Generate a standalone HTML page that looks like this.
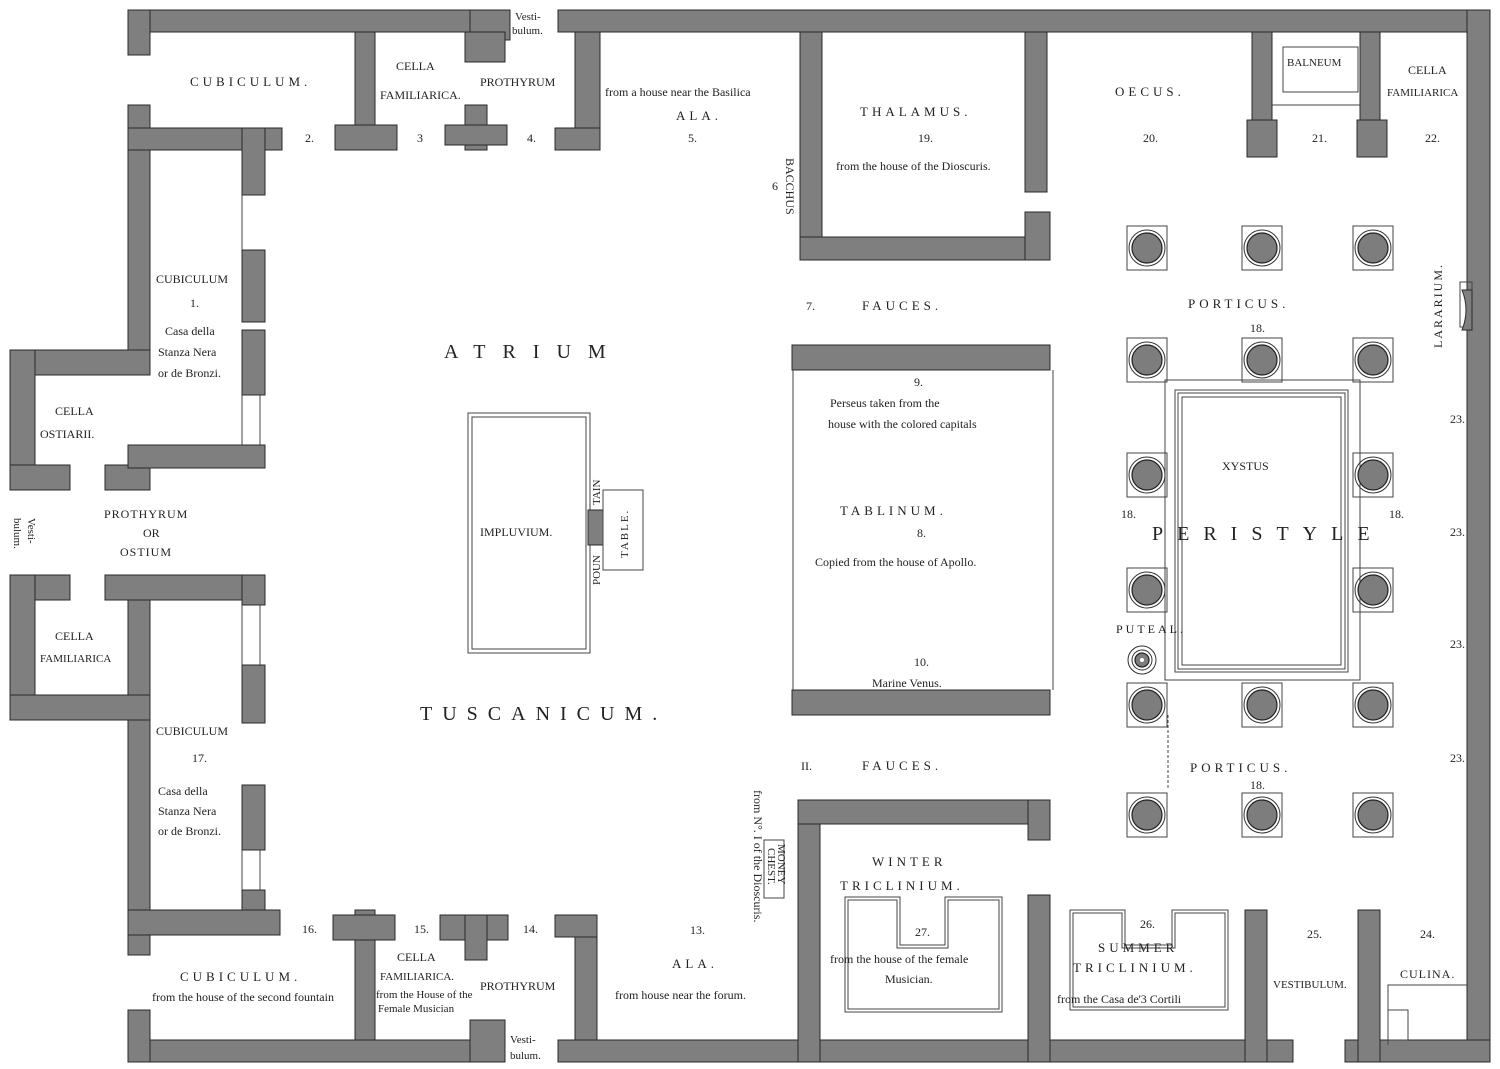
<!DOCTYPE html>
<html><head><meta charset="utf-8"><style>
html,body{margin:0;padding:0;background:#fff;}
svg{display:block;}
text{font-family:"Liberation Serif",serif;fill:#222;}
.w{fill:#7f7f7f;stroke:#2a2a2a;stroke-width:1;}
.t{fill:none;stroke:#444;stroke-width:1;}
.c{fill:#7d7d7d;stroke:#222;stroke-width:1.2;}
.cap{font-size:13px;letter-spacing:4px;}
.sm{font-size:11px;}
.nm{font-size:12px;}
.big{font-size:20px;letter-spacing:10px;}
</style></head><body>
<svg width="1500" height="1069" viewBox="0 0 1500 1069" xmlns="http://www.w3.org/2000/svg">
<defs>
<g id="col"><rect x="-20" y="-22" width="40" height="44" class="t"/><circle r="18" fill="none" stroke="#333"/><circle r="15" class="c"/></g>
</defs>
<rect class="w" x="128" y="10" width="375" height="22"/>
<rect class="w" x="470" y="10" width="40" height="30"/>
<rect class="w" x="558" y="10" width="932" height="22"/>
<rect class="w" x="128" y="10" width="22" height="45"/>
<rect class="w" x="128" y="105" width="22" height="250"/>
<rect class="w" x="1467" y="10" width="23" height="1052"/>
<rect class="w" x="128" y="1040" width="375" height="22"/>
<rect class="w" x="470" y="1020" width="35" height="42"/>
<rect class="w" x="558" y="1040" width="735" height="22"/>
<rect class="w" x="1345" y="1040" width="145" height="22"/>
<rect class="w" x="128" y="575" width="22" height="380"/>
<rect class="w" x="128" y="1010" width="22" height="52"/>
<rect class="w" x="10" y="350" width="140" height="25"/>
<rect class="w" x="10" y="350" width="25" height="140"/>
<rect class="w" x="10" y="465" width="60" height="25"/>
<rect class="w" x="105" y="465" width="45" height="25"/>
<rect class="w" x="10" y="575" width="60" height="25"/>
<rect class="w" x="105" y="575" width="160" height="25"/>
<rect class="w" x="10" y="575" width="25" height="145"/>
<rect class="w" x="10" y="695" width="140" height="25"/>
<rect class="w" x="128" y="128" width="154" height="22"/>
<rect class="w" x="242" y="128" width="23" height="67"/>
<rect class="w" x="242" y="250" width="23" height="72"/>
<rect class="w" x="242" y="330" width="23" height="65"/>
<rect class="w" x="242" y="445" width="23" height="23"/>
<rect class="w" x="128" y="445" width="137" height="23"/>
<line class="t" x1="242" y1="195" x2="242" y2="250"/><line class="t" x1="242" y1="395" x2="242" y2="445"/><line class="t" x1="260" y1="395" x2="260" y2="445"/>
<rect class="w" x="242" y="575" width="23" height="30"/>
<rect class="w" x="242" y="665" width="23" height="58"/>
<rect class="w" x="242" y="785" width="23" height="65"/>
<rect class="w" x="242" y="890" width="23" height="25"/>
<rect class="w" x="128" y="910" width="152" height="25"/>
<line class="t" x1="242" y1="605" x2="242" y2="665"/><line class="t" x1="260" y1="605" x2="260" y2="665"/>
<line class="t" x1="242" y1="850" x2="242" y2="890"/><line class="t" x1="260" y1="850" x2="260" y2="890"/>
<rect class="w" x="355" y="32" width="20" height="95"/>
<rect class="w" x="335" y="125" width="62" height="25"/>
<rect class="w" x="465" y="105" width="22" height="45"/>
<rect class="w" x="445" y="125" width="62" height="20"/>
<rect class="w" x="465" y="32" width="40" height="30"/>
<rect class="w" x="575" y="32" width="25" height="118"/>
<rect class="w" x="555" y="128" width="45" height="22"/>
<rect class="w" x="355" y="910" width="20" height="130"/>
<rect class="w" x="333" y="915" width="62" height="25"/>
<rect class="w" x="440" y="915" width="68" height="25"/>
<rect class="w" x="465" y="915" width="22" height="45"/>
<rect class="w" x="575" y="915" width="22" height="125"/>
<rect class="w" x="555" y="915" width="42" height="22"/>
<rect class="w" x="800" y="32" width="22" height="228"/>
<rect class="w" x="800" y="237" width="250" height="23"/>
<rect class="w" x="1025" y="32" width="22" height="160"/>
<rect class="w" x="1025" y="212" width="25" height="48"/>
<rect class="w" x="1252" y="32" width="20" height="125"/>
<rect class="w" x="1247" y="120" width="30" height="37"/>
<rect class="w" x="1360" y="32" width="20" height="125"/>
<rect class="w" x="1357" y="120" width="30" height="37"/>
<rect class="t" x="1283" y="47" width="75" height="45"/>
<line class="t" x1="1272" y1="105" x2="1360" y2="105"/>
<rect class="w" x="792" y="345" width="258" height="25"/>
<rect class="w" x="792" y="690" width="258" height="25"/>
<line class="t" x1="793" y1="370" x2="793" y2="690"/><line class="t" x1="1053" y1="370" x2="1053" y2="690"/>
<rect class="w" x="798" y="800" width="22" height="262"/>
<rect class="w" x="798" y="800" width="252" height="24"/>
<rect class="w" x="1028" y="800" width="22" height="40"/>
<rect class="w" x="1028" y="895" width="22" height="167"/>
<path class="t" d="M845 897 H900 V945 H945 V897 H1002 V1012 H845 Z"/>
<path class="t" d="M848 900 H897 V948 H948 V900 H999 V1009 H848 Z"/>
<path class="t" d="M1070 910 H1125 V945 H1172 V910 H1228 V1010 H1070 Z"/>
<path class="t" d="M1073 913 H1122 V948 H1175 V913 H1225 V1007 H1073 Z"/>
<rect class="w" x="1245" y="910" width="22" height="152"/>
<rect class="w" x="1358" y="910" width="22" height="152"/>
<path class="t" d="M1388 1045 V985 H1467"/><rect class="t" x="1388" y="1010" width="20" height="30"/>
<rect class="t" x="1460" y="282" width="12" height="45"/>
<path class="w" d="M1462 290 H1472 V330 H1462 Q1470 310 1462 290Z"/>
<rect class="t" x="468" y="413" width="122" height="240"/>
<rect class="t" x="472" y="417" width="114" height="232"/>
<rect class="w" x="588" y="510" width="15" height="35"/>
<rect class="t" x="603" y="490" width="40" height="80"/>
<rect class="t" x="1165" y="380" width="195" height="300"/>
<rect class="t" x="1175" y="390" width="173" height="282"/>
<rect class="t" x="1178" y="393" width="167" height="276"/>
<rect class="t" x="1182" y="397" width="159" height="268"/>
<line class="t" x1="1168" y1="715" x2="1168" y2="790" stroke-dasharray="3,2"/>
<use href="#col" x="1147" y="248"/><use href="#col" x="1262" y="248"/><use href="#col" x="1373" y="248"/>
<use href="#col" x="1147" y="360"/><use href="#col" x="1262" y="360"/><use href="#col" x="1373" y="360"/>
<use href="#col" x="1147" y="475"/><use href="#col" x="1373" y="475"/>
<use href="#col" x="1147" y="590"/><use href="#col" x="1373" y="590"/>
<use href="#col" x="1147" y="705"/><use href="#col" x="1262" y="705"/><use href="#col" x="1373" y="705"/>
<use href="#col" x="1147" y="815"/><use href="#col" x="1262" y="815"/><use href="#col" x="1373" y="815"/>
<circle cx="1142" cy="660" r="14" fill="none" stroke="#333"/><circle cx="1142" cy="660" r="10" fill="none" stroke="#333"/><circle cx="1142" cy="660" r="7" class="c"/><circle cx="1142" cy="660" r="2" fill="#fff"/>
<rect class="t" x="764" y="840" width="20" height="58"/>

<text class="cap" x="190" y="86">CUBICULUM.</text>
<text class="nm" x="396" y="70">CELLA</text>
<text class="nm" x="380" y="99">FAMILIARICA.</text>
<text class="nm" x="480" y="86">PROTHYRUM</text>
<text class="sm" x="515" y="20">Vesti-</text><text class="sm" x="512" y="34">bulum.</text>
<text class="nm" x="605" y="96">from a house near the Basilica</text>
<text class="cap" x="676" y="120">ALA.</text>
<text class="nm" x="688" y="142">5.</text>
<text class="nm" x="305" y="142">2.</text><text class="nm" x="417" y="142">3</text><text class="nm" x="527" y="142">4.</text>
<text class="cap" x="860" y="116">THALAMUS.</text>
<text class="nm" x="918" y="142">19.</text>
<text class="nm" x="836" y="170">from the house of the Dioscuris.</text>
<text class="nm" x="786" y="158" transform="rotate(90 786 158)">BACCHUS</text>
<text class="nm" x="772" y="190">6</text>
<text class="cap" x="1115" y="96">OECUS.</text>
<text class="nm" x="1143" y="142">20.</text><text class="nm" x="1312" y="142">21.</text><text class="nm" x="1425" y="142">22.</text>
<text class="sm" x="1287" y="66">BALNEUM</text>
<text class="nm" x="1408" y="74">CELLA</text><text class="sm" x="1387" y="96">FAMILIARICA</text>
<text class="nm" x="1442" y="348" transform="rotate(-90 1442 348)" letter-spacing="2">LARARIUM.</text>
<text class="nm" x="806" y="310">7.</text>
<text class="cap" x="862" y="310">FAUCES.</text>
<text class="cap" x="1188" y="308">PORTICUS.</text>
<text class="nm" x="1250" y="332">18.</text>
<text class="nm" x="914" y="386">9.</text>
<text class="nm" x="830" y="407" font-size="13">Perseus taken from the</text>
<text class="nm" x="828" y="428" font-size="13">house with the colored capitals</text>
<text class="cap" x="840" y="515">TABLINUM.</text>
<text class="nm" x="917" y="537">8.</text>
<text class="nm" x="815" y="566" font-size="13">Copied from the house of Apollo.</text>
<text class="nm" x="914" y="666">10.</text>
<text class="nm" x="872" y="687" font-size="13">Marine Venus.</text>
<text class="nm" x="1222" y="470">XYSTUS</text>
<text class="big" x="1152" y="540" style="letter-spacing:14px">PERISTYLE</text>
<text class="nm" x="1121" y="518">18.</text><text class="nm" x="1389" y="518">18.</text>
<text class="nm" x="1116" y="633" letter-spacing="3">PUTEAL.</text>
<text class="nm" x="1450" y="423">23.</text><text class="nm" x="1450" y="536">23.</text><text class="nm" x="1450" y="648">23.</text><text class="nm" x="1450" y="762">23.</text>
<text class="nm" x="801" y="770">II.</text>
<text class="cap" x="862" y="770">FAUCES.</text>
<text class="cap" x="1190" y="772" font-size="15">PORTICUS.</text>
<text class="nm" x="1250" y="789">18.</text>
<text class="big" x="444" y="358" style="letter-spacing:17px">ATRIUM</text>
<text class="big" x="420" y="720" font-size="19" letter-spacing="7">TUSCANICUM.</text>
<text class="nm" x="480" y="536">IMPLUVIUM.</text>
<text class="sm" x="600" y="505" transform="rotate(-90 600 505)">TAIN</text>
<text class="sm" x="600" y="585" transform="rotate(-90 600 585)">POUN</text>
<text class="sm" x="628" y="558" transform="rotate(-90 628 558)" letter-spacing="2">TABLE.</text>
<text class="nm" x="156" y="283">CUBICULUM</text>
<text class="nm" x="190" y="307">1.</text>
<text class="nm" x="165" y="335" font-size="13">Casa della</text>
<text class="nm" x="158" y="356" font-size="13">Stanza Nera</text>
<text class="nm" x="158" y="377" font-size="13">or de Bronzi.</text>
<text class="nm" x="55" y="415">CELLA</text><text class="nm" x="40" y="438">OSTIARII.</text>
<text class="nm" x="104" y="518" letter-spacing="1">PROTHYRUM</text>
<text class="nm" x="143" y="537">OR</text>
<text class="nm" x="120" y="556" letter-spacing="1">OSTIUM</text>
<text class="sm" x="28" y="518" transform="rotate(90 28 518)">Vesti-</text>
<text class="sm" x="14" y="518" transform="rotate(90 14 518)">bulum.</text>
<text class="nm" x="55" y="640">CELLA</text><text class="sm" x="40" y="662">FAMILIARICA</text>
<text class="nm" x="156" y="735">CUBICULUM</text>
<text class="nm" x="192" y="762">17.</text>
<text class="nm" x="158" y="795" font-size="13">Casa della</text>
<text class="nm" x="158" y="815" font-size="13">Stanza Nera</text>
<text class="nm" x="158" y="835" font-size="13">or de Bronzi.</text>
<text class="nm" x="302" y="933">16.</text><text class="nm" x="414" y="933">15.</text><text class="nm" x="523" y="933">14.</text><text class="nm" x="690" y="934">13.</text>
<text class="cap" x="180" y="981">CUBICULUM.</text>
<text class="nm" x="152" y="1001" font-size="12">from the house of the second fountain</text>
<text class="nm" x="397" y="961">CELLA</text>
<text class="sm" x="380" y="980">FAMILIARICA.</text>
<text class="sm" x="376" y="998" font-size="10">from the House of the</text>
<text class="sm" x="378" y="1012" font-size="10">Female Musician</text>
<text class="nm" x="480" y="990">PROTHYRUM</text>
<text class="sm" x="510" y="1043">Vesti-</text><text class="sm" x="510" y="1059">bulum.</text>
<text class="cap" x="672" y="968">ALA.</text>
<text class="nm" x="615" y="999" font-size="13">from house near the forum.</text>
<text class="nm" x="754" y="790" transform="rotate(90 754 790)" font-size="13">from N°. I of the Dioscuris.</text>
<text class="sm" x="778" y="844" transform="rotate(90 778 844)" font-size="10">MONEY</text>
<text class="sm" x="768" y="848" transform="rotate(90 768 848)" font-size="10">CHEST.</text>
<text class="cap" x="872" y="866">WINTER</text>
<text class="cap" x="840" y="890">TRICLINIUM.</text>
<text class="nm" x="915" y="936">27.</text>
<text class="nm" x="830" y="963" font-size="13">from the house of the female</text>
<text class="nm" x="885" y="983" font-size="13">Musician.</text>
<text class="nm" x="1140" y="928">26.</text>
<text class="cap" x="1098" y="952">SUMMER</text>
<text class="cap" x="1073" y="972">TRICLINIUM.</text>
<text class="nm" x="1057" y="1003" font-size="13">from the Casa de'3 Cortili</text>
<text class="nm" x="1307" y="938">25.</text><text class="nm" x="1420" y="938">24.</text>
<text class="sm" x="1273" y="988">VESTIBULUM.</text>
<text class="nm" x="1400" y="978" letter-spacing="1">CULINA.</text>
</svg>
</body></html>
